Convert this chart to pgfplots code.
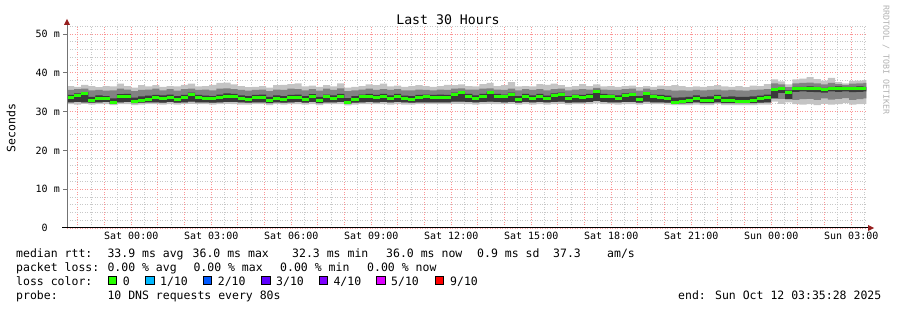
\documentclass[border=0pt]{standalone}
\usepackage{pgfplots}
\pgfplotsset{compat=1.18}
\usepgfplotslibrary{fillbetween}
\usepackage{pgfplotstable}
\usepackage{fontspec}
\setmainfont{DejaVu Sans Mono}
\definecolor{lossgreen}{RGB}{38,255,0}
\definecolor{loss1}{RGB}{0,184,255}
\definecolor{loss2}{RGB}{0,89,255}
\definecolor{loss3}{RGB}{94,0,255}
\definecolor{loss4}{RGB}{126,0,255}
\definecolor{loss5}{RGB}{221,0,255}
\definecolor{loss9}{RGB}{255,0,0}
\definecolor{lightband}{RGB}{196,196,196}
\definecolor{midband}{RGB}{130,130,130}
\definecolor{darkband}{RGB}{58,58,58}
\definecolor{majgrid}{RGB}{250,150,150}
\definecolor{mingrid}{RGB}{200,200,200}
\definecolor{arrowred}{RGB}{150,30,30}

\pgfplotstableread{
i mn lo dl md dk hi mx
0 31.9 32.4 32.4 33.7 34.3 35.6 36.6
1 31.8 32.5 32.5 34.1 34.7 35.8 36.4
2 32.0 32.4 32.4 34.6 35.0 35.9 36.9
3 31.8 32.3 32.3 32.9 33.8 35.5 36.6
4 31.9 32.4 32.4 33.5 34.2 35.6 36.3
5 31.9 32.5 32.5 33.3 34.0 35.4 36.6
6 31.7 32.0 32.0 32.3 33.4 35.5 36.5
7 31.9 32.4 32.4 33.8 34.5 35.9 37.2
8 31.9 32.5 32.5 34.0 34.6 35.7 36.6
9 31.7 32.2 32.2 32.6 33.6 35.3 36.2
10 31.8 32.3 32.3 32.9 33.9 35.6 36.8
11 31.9 32.4 32.4 33.1 34.1 35.7 36.5
12 31.9 32.4 32.4 33.6 34.3 35.9 36.8
13 31.8 32.3 32.3 33.5 34.2 35.5 36.4
14 31.9 32.5 32.5 33.7 34.4 35.8 36.6
15 31.8 32.3 32.3 33.1 34.0 35.4 36.5
16 31.9 32.4 32.4 33.6 34.3 35.8 36.9
17 32.0 32.6 32.6 34.4 34.9 35.9 37.2
18 31.9 32.4 32.4 33.6 34.3 35.6 36.5
19 31.9 32.4 32.4 33.3 34.1 35.7 36.6
20 31.8 32.3 32.3 33.3 34.0 35.5 36.9
21 31.9 32.4 32.4 33.6 34.4 35.9 37.4
22 32.0 32.5 32.5 34.0 34.7 36.0 37.5
23 31.9 32.5 32.5 34.0 34.6 35.8 37.0
24 31.8 32.4 32.4 33.5 34.2 35.6 36.6
25 31.8 32.3 32.3 33.1 34.0 35.4 36.3
26 31.9 32.4 32.4 33.6 34.3 35.6 36.4
27 31.9 32.4 32.4 33.6 34.4 35.7 36.6
28 31.7 32.2 32.2 32.8 33.8 35.3 36.2
29 31.9 32.4 32.4 33.5 34.2 35.7 36.8
30 31.8 32.3 32.3 33.1 34.0 35.6 36.9
31 31.9 32.4 32.4 33.6 34.3 35.9 37.1
32 31.9 32.5 32.5 33.6 34.4 35.8 37.3
33 31.8 32.3 32.3 33.1 34.0 35.5 36.5
34 31.9 32.5 32.5 33.9 34.5 35.8 36.7
35 31.7 32.2 32.2 32.8 33.8 35.4 36.4
36 31.9 32.4 32.4 33.8 34.4 35.9 36.8
37 31.9 32.4 32.4 33.5 34.2 35.6 36.5
38 31.9 32.5 32.5 34.0 34.6 36.0 37.3
39 31.6 32.0 32.0 32.3 33.5 35.3 36.2
40 31.8 32.3 32.3 33.1 34.0 35.5 36.4
41 31.9 32.4 32.4 33.8 34.4 35.7 36.6
42 31.9 32.5 32.5 34.0 34.6 35.9 37.0
43 31.9 32.4 32.4 33.7 34.3 35.6 36.8
44 31.9 32.5 32.5 34.0 34.6 35.8 37.2
45 31.8 32.4 32.4 33.5 34.2 35.6 36.5
46 31.9 32.5 32.5 34.0 34.6 35.8 36.7
47 31.8 32.4 32.4 33.4 34.1 35.5 36.4
48 31.8 32.3 32.3 33.1 34.0 35.5 36.6
49 31.9 32.4 32.4 33.7 34.3 35.7 36.8
50 31.9 32.4 32.4 33.8 34.4 35.6 36.6
51 31.9 32.4 32.4 33.7 34.3 35.5 36.4
52 31.9 32.4 32.4 33.7 34.4 35.7 36.6
53 31.9 32.4 32.4 33.7 34.3 35.6 36.9
54 32.0 32.6 32.6 34.5 34.9 35.9 36.8
55 32.0 32.6 32.6 34.8 35.1 36.0 37.0
56 31.9 32.5 32.5 34.0 34.6 35.7 36.6
57 31.8 32.4 32.4 33.5 34.2 35.7 36.5
58 31.9 32.5 32.5 34.0 34.6 35.9 37.1
59 32.0 32.6 32.6 34.8 35.1 36.0 37.4
60 31.9 32.5 32.5 34.0 34.6 35.7 36.6
61 31.9 32.4 32.4 33.8 34.4 35.6 36.8
62 32.0 32.5 32.5 34.4 34.9 35.9 37.6
63 31.8 32.3 32.3 33.1 34.0 35.5 36.5
64 31.9 32.5 32.5 34.0 34.6 35.8 36.6
65 31.8 32.4 32.4 33.5 34.2 35.6 36.5
66 31.9 32.5 32.5 34.0 34.6 35.8 37.1
67 31.8 32.4 32.4 33.4 34.1 35.5 36.9
68 31.9 32.5 32.5 34.2 34.7 35.8 37.2
69 32.0 32.6 32.6 34.5 34.9 35.9 36.8
70 31.8 32.3 32.3 33.3 34.0 35.5 36.4
71 31.9 32.4 32.4 33.8 34.4 35.7 36.6
72 31.9 32.4 32.4 33.6 34.3 35.8 37.1
73 31.9 32.5 32.5 34.0 34.6 35.7 36.6
74 32.1 32.8 32.8 35.3 35.6 36.1 37.0
75 31.9 32.5 32.5 34.0 34.6 35.7 36.5
76 31.9 32.4 32.4 33.8 34.4 35.6 36.6
77 31.8 32.4 32.4 33.5 34.2 35.6 36.4
78 31.9 32.5 32.5 34.2 34.7 35.8 36.6
79 31.9 32.5 32.5 34.3 34.8 35.9 36.7
80 31.8 32.3 32.3 33.1 34.0 35.4 36.3
81 32.0 32.6 32.6 34.6 35.0 35.9 36.6
82 31.9 32.4 32.4 33.8 34.4 35.6 36.4
83 31.9 32.4 32.4 33.6 34.3 35.8 36.7
84 31.8 32.3 32.3 33.3 34.1 35.6 36.6
85 31.7 32.1 32.1 32.4 33.6 35.4 36.8
86 31.7 32.1 32.1 32.5 33.7 35.5 36.6
87 31.7 32.2 32.2 32.8 33.8 35.4 36.3
88 31.8 32.4 32.4 33.5 34.2 35.6 36.5
89 31.7 32.2 32.2 32.9 33.8 35.5 36.4
90 31.7 32.2 32.2 32.9 33.9 35.6 36.6
91 31.9 32.4 32.4 33.6 34.3 35.7 36.8
92 31.7 32.2 32.2 32.8 33.8 35.5 36.5
93 31.7 32.2 32.2 32.9 33.9 35.6 36.4
94 31.7 32.2 32.2 32.7 33.8 35.5 36.6
95 31.7 32.2 32.2 32.7 33.8 35.4 36.3
96 31.7 32.2 32.2 32.9 33.9 35.6 36.7
97 31.8 32.3 32.3 33.3 34.1 35.7 36.6
98 31.8 32.4 32.4 33.6 34.4 35.8 37.1
99 32.6 33.4 33.4 35.6 36.0 37.3 38.3
100 32.0 33.3 34.8 35.9 36.3 37.0 37.8
101 32.4 33.2 33.2 34.9 35.5 36.3 37.0
102 31.9 33.0 35.1 36.0 36.4 37.3 38.3
103 31.8 33.2 35.2 36.0 36.4 37.4 38.5
104 31.9 33.3 35.1 36.0 36.5 37.5 38.9
105 31.7 33.0 35.0 36.0 36.4 37.3 38.4
106 32.0 33.4 34.9 35.6 36.1 37.0 38.0
107 31.8 33.1 35.2 36.0 36.4 37.4 38.7
108 31.9 33.3 35.1 36.0 36.5 37.1 37.6
109 32.2 33.5 35.2 36.0 36.4 36.9 37.3
110 31.8 33.0 35.0 36.0 36.4 37.2 37.9
111 31.9 33.2 35.1 36.0 36.5 37.3 38.0
112 32.0 33.4 35.2 36.0 36.4 37.4 38.1
112.4 32.0 33.4 35.2 36.0 36.4 37.4 38.1
}\rtt

\newcommand{\legfont}{\fontsize{11.5}{13}\selectfont}

\begin{document}
\begin{tikzpicture}[x=1pt,y=1pt]
\begin{axis}[
  at={(67pt,82pt)}, anchor=south west,
  scale only axis, width=800pt, height=202.5pt,
  xmin=0, xmax=112.5, ymin=0, ymax=52.2,
  axis line style={draw=none},
  /pgf/number format/assume math mode=true,
  xtick={1.533,5.283,...,112.5}, xticklabels={},
  minor xtick={3.408,7.158,...,112.5},
  extra x ticks={9.033,20.283,...,111},
  extra x tick labels={Sat 00:00,Sat 03:00,Sat 06:00,Sat 09:00,Sat 12:00,Sat 15:00,Sat 18:00,Sat 21:00,Sun 00:00,Sun 03:00},
  extra x tick style={grid=none},
  ytick={0,10,...,50},
  yticklabels={0\phantom{ m},10 m,20 m,30 m,40 m,50 m},
  minor ytick={2,4,6,8,12,14,16,18,22,24,26,28,32,34,36,38,42,44,46,48,52},
  grid=both,
  major tick length=0pt, minor tick length=0pt,
  major grid style={draw=majgrid, line width=0.9pt, dash pattern=on 1pt off 1.5pt},
  minor grid style={draw=mingrid, line width=0.9pt, dash pattern=on 1pt off 1.5pt},
  xticklabel style={font=\fontsize{10}{12}\selectfont, inner sep=0pt, yshift=-4pt},
  yticklabel style={font=\fontsize{10}{12}\selectfont, inner sep=0pt, anchor=east, xshift=-7pt},
]
\addplot[name path=mn, draw=none, const plot] table[x=i,y=mn]{\rtt};
\addplot[name path=mx, draw=none, const plot] table[x=i,y=mx]{\rtt};
\addplot[name path=lo, draw=none, const plot] table[x=i,y=lo]{\rtt};
\addplot[name path=hi, draw=none, const plot] table[x=i,y=hi]{\rtt};
\addplot[name path=dl, draw=none, const plot] table[x=i,y=dl]{\rtt};
\addplot[name path=dk, draw=none, const plot] table[x=i,y=dk]{\rtt};
\addplot[fill=lightband, draw=none] fill between[of=mn and mx];
\addplot[fill=midband, draw=none] fill between[of=lo and hi];
\addplot[fill=darkband, draw=none] fill between[of=dl and dk];
\addplot[lossgreen, line width=3pt, jump mark left, line cap=butt] table[x=i,y=md]{\rtt};
\end{axis}
% axis lines with arrows and small y ticks
\draw[black!55, line width=1pt] (67,82) -- (67,286);
\foreach \yy in {120.8,159.6,198.4,237.2,275.9} {\draw[black!55, line width=1pt] (63,\yy) -- (67,\yy);}
\fill[arrowred] (64,285) -- (70,285) -- (67,291) -- cycle;
\draw[black, line width=1pt] (62,82) -- (868,82);
\fill[arrowred] (868,79) -- (868,85) -- (874,82) -- cycle;
% texts
\node[font=\fontsize{13.2}{15}\selectfont] at (448,290) {Last 30 Hours};
\node[font=\legfont, rotate=90] at (11,182) {Seconds};
\node[font=\fontsize{8.3}{9}\selectfont, rotate=-90, text=black!30] at (886,250) {RRDTOOL / TOBI OETIKER};
\begin{scope}[every node/.style={font=\legfont, anchor=base west, inner sep=0pt}]
\node at (16,52.7) {median rtt:};
\node at (107.3,52.7) {33.9 ms avg};
\node at (192.5,52.7) {36.0 ms max};
\node at (292,52.7) {32.3 ms min};
\node at (386,52.7) {36.0 ms now};
\node at (477,52.7) {0.9 ms sd};
\node at (553,52.7) {37.3};
\node at (607,52.7) {am/s};
\node at (16,38.3) {packet loss:};
\node at (107.3,38.3) {0.00 \% avg};
\node at (193.3,38.3) {0.00 \% max};
\node at (280,38.3) {0.00 \% min};
\node at (367,38.3) {0.00 \% now};
\node at (16,24) {loss color:};
\node at (122.7,24) {0};
\node at (160,24) {1/10};
\node at (217.7,24) {2/10};
\node at (276,24) {3/10};
\node at (333.3,24) {4/10};
\node at (391,24) {5/10};
\node at (450,24) {9/10};
\node at (16,10.7) {probe:};
\node at (107.3,10.7) {10 DNS requests every 80s};
\node at (678,10.3) {end: Sun Oct 12 03:35:28 2025};
\end{scope}
\begin{scope}[line width=0.8pt, draw=black]
\filldraw[fill=lossgreen] (108.3,25.7) rectangle +(8.3,8.3);
\filldraw[fill=loss1] (145.7,25.7) rectangle +(8.3,8.3);
\filldraw[fill=loss2] (203.3,25.7) rectangle +(8.3,8.3);
\filldraw[fill=loss3] (261.7,25.7) rectangle +(8.3,8.3);
\filldraw[fill=loss4] (319,25.7) rectangle +(8.3,8.3);
\filldraw[fill=loss5] (376.7,25.7) rectangle +(8.3,8.3);
\filldraw[fill=loss9] (435,25.7) rectangle +(8.3,8.3);
\end{scope}
\pgfresetboundingbox
\path[use as bounding box] (0,0) rectangle (897,310);
\end{tikzpicture}
\end{document}
